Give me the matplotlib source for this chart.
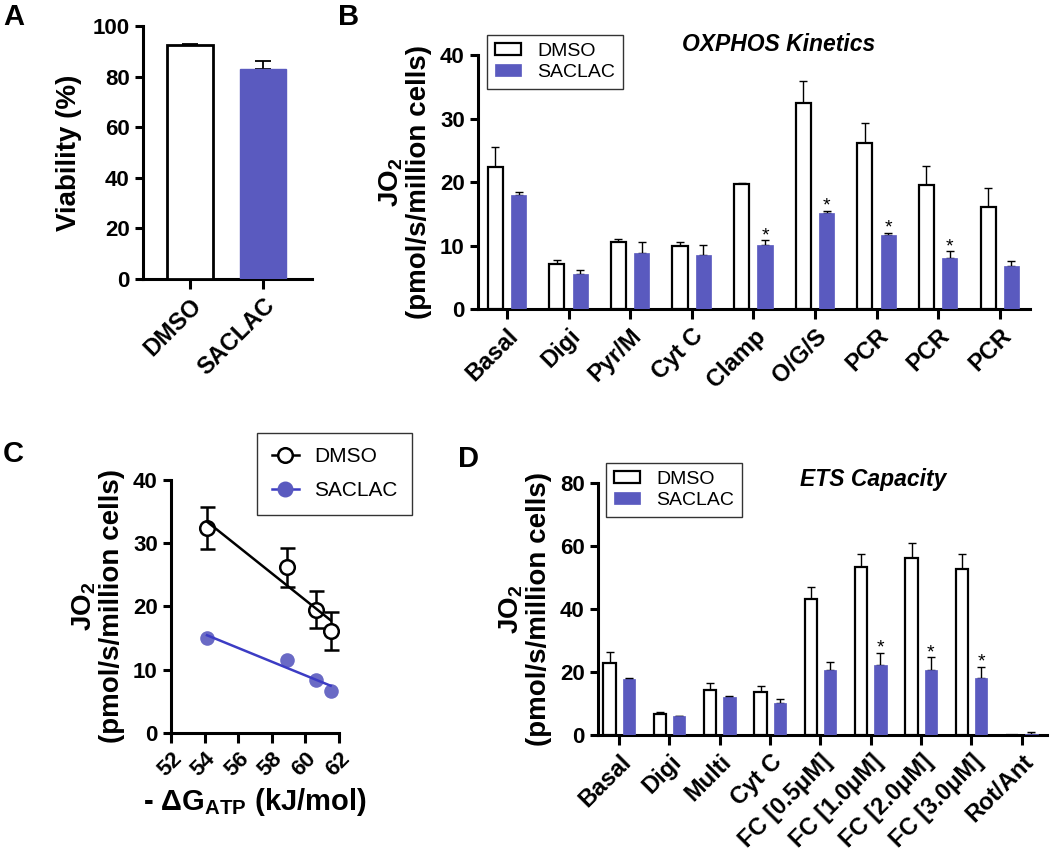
import numpy as np
import matplotlib
matplotlib.use('Agg')
import matplotlib.pyplot as plt
from matplotlib.lines import Line2D

plt.rcParams['font.family'] = ['Liberation Sans', 'DejaVu Sans']
plt.rcParams['mathtext.fontset'] = 'custom'
plt.rcParams['mathtext.rm'] = 'Liberation Sans'
plt.rcParams['mathtext.bf'] = 'Liberation Sans:bold'
plt.rcParams['mathtext.it'] = 'Liberation Sans:italic'
plt.rcParams['mathtext.default'] = 'bf'

BLUE = '#5a5abf'
LINEBLUE = '#3c3cc4'
YLAB = 'JO$_{2}$\n(pmol/s/million cells)'

# --- panel A: viability
a_groups = ['DMSO', 'SACLAC']
a_mean = [92.3, 83.0]
a_err = [0.7, 3.2]

# --- panel B: OXPHOS kinetics
b_labels = ['Basal', 'Digi', 'Pyr/M', 'Cyt C', 'Clamp', 'O/G/S', 'PCR', 'PCR', 'PCR']
b_dmso = [22.4, 7.1, 10.5, 9.9, 19.7, 32.4, 26.1, 19.5, 16.0]
b_dmso_err = [3.1, 0.6, 0.6, 0.7, 0.15, 3.5, 3.2, 3.0, 3.0]
b_saclac = [18.0, 5.5, 8.9, 8.45, 10.1, 15.1, 11.6, 8.1, 6.7]
b_saclac_err = [0.5, 0.6, 1.7, 1.7, 0.7, 0.4, 0.4, 1.0, 0.9]
b_star = [False, False, False, False, True, True, True, True, False]

# --- panel C: JO2 vs -dG ATP
c_dg = [54.14, 58.93, 60.63, 61.5]
c_dmso = [32.4, 26.2, 19.5, 16.05]
c_dmso_err = [3.3, 3.1, 2.9, 3.0]
c_saclac = [15.0, 11.6, 8.3, 6.7]

# --- panel D: ETS capacity
d_labels = ['Basal', 'Digi', 'Multi', 'Cyt C', 'FC [0.5\u03bcM]', 'FC [1.0\u03bcM]',
            'FC [2.0\u03bcM]', 'FC [3.0\u03bcM]', 'Rot/Ant']
d_dmso = [22.9, 6.8, 14.4, 13.7, 43.3, 53.4, 56.1, 52.6, 0.0]
d_dmso_err = [3.4, 0.6, 2.0, 1.7, 3.6, 4.0, 4.7, 5.0, 0.0]
d_saclac = [17.9, 5.9, 11.9, 10.1, 20.5, 22.3, 20.7, 18.2, 0.4]
d_saclac_err = [0.3, 0.2, 0.6, 1.4, 2.8, 3.8, 3.9, 3.5, 0.5]
d_star = [False, False, False, False, False, True, True, True, False]

fig = plt.figure(figsize=(10.5, 8.56), dpi=100)


def style_axes(ax):
    for s in ['top', 'right']:
        ax.spines[s].set_visible(False)
    for s in ['left', 'bottom']:
        ax.spines[s].set_linewidth(2.2)
    ax.tick_params(axis='y', width=2.2, length=6, labelsize=16, direction='out')
    ax.tick_params(axis='x', width=2.2, length=7.5, labelsize=17, direction='out')
    for t in ax.get_yticklabels() + ax.get_xticklabels():
        t.set_fontweight('bold')


def rot_labels(ax):
    for t in ax.get_xticklabels():
        t.set_rotation(45)
        t.set_ha('right')
        t.set_rotation_mode('anchor')


def bar_legend(ax, x0, y0):
    leg = ax.legend(['DMSO', 'SACLAC'], loc='upper left', bbox_to_anchor=(x0, y0),
                    borderaxespad=0, fontsize=14, frameon=True, fancybox=False,
                    edgecolor='black', handlelength=1.33, handleheight=0.6,
                    borderpad=0.4, labelspacing=0.22, handletextpad=0.85)
    leg.get_frame().set_linewidth(1.0)


def grouped(ax, dmso, dmso_err, sac, sac_err, stars, ymax):
    x = np.arange(len(dmso))
    w = 0.245
    off = 0.19
    ax.bar(x - off, dmso, w, color='white', edgecolor='black', linewidth=1.6, zorder=3)
    ax.bar(x + off, sac, w, color=BLUE, edgecolor=BLUE, linewidth=0.5, zorder=3)
    ax.errorbar(x - off, dmso, yerr=[np.zeros(len(dmso)), dmso_err], fmt='none',
                ecolor='black', elinewidth=1.0, capsize=3.2, capthick=1.0, zorder=2)
    ax.errorbar(x + off, sac, yerr=[np.zeros(len(sac)), sac_err], fmt='none',
                ecolor='black', elinewidth=1.0, capsize=3.2, capthick=1.0, zorder=2)
    for i, s in enumerate(stars):
        if s:
            ax.text(x[i] + off, sac[i] + sac_err[i], '*', ha='center',
                    va='baseline', fontsize=14)
    ax.set_xlim(-0.45, len(dmso) - 0.5)
    ax.set_ylim(0, ymax)
    ax.set_xticks(x)


# A
axA = fig.add_axes([0.1362, 0.6741, 0.1610, 0.2956])
xa = np.arange(2)
axA.bar(xa[0], a_mean[0], 0.63, color='white', edgecolor='black', linewidth=2, zorder=3)
axA.bar(xa[1], a_mean[1], 0.63, color=BLUE, edgecolor=BLUE, zorder=3)
axA.errorbar(xa, a_mean, yerr=[[0, 0], a_err], fmt='none', ecolor='black',
             elinewidth=1.3, capsize=6, capthick=1.3, zorder=2)
axA.set_xlim(-0.64, 1.67)
axA.set_ylim(0, 100)
axA.set_yticks([0, 20, 40, 60, 80, 100])
axA.set_xticks(xa)
axA.set_xticklabels(a_groups)
axA.set_ylabel('Viability (%)', fontsize=20, fontweight='bold', labelpad=8)
style_axes(axA)
rot_labels(axA)
fig.text(0.003, 0.996, 'A', fontsize=21, fontweight='bold', va='top')

# B
axB = fig.add_axes([0.4552, 0.6390, 0.5257, 0.2967])
grouped(axB, b_dmso, b_dmso_err, b_saclac, b_saclac_err, b_star, 40)
axB.set_xlim(-0.47, 8.49)
axB.set_yticks([0, 10, 20, 30, 40])
axB.set_xticklabels(b_labels)
axB.set_ylabel(YLAB, fontsize=20, fontweight='bold', labelpad=6, linespacing=1.05)
axB.text(0.545, 1.04, 'OXPHOS Kinetics', transform=axB.transAxes, ha='center',
         va='center', fontsize=16.5, fontweight='bold', fontstyle='italic')
style_axes(axB)
rot_labels(axB)
bar_legend(axB, 0.0163, 1.079)
fig.text(0.322, 0.996, 'B', fontsize=21, fontweight='bold', va='top')

# C
axC = fig.add_axes([0.1629, 0.1437, 0.1600, 0.2956])
axC.errorbar(c_dg, c_dmso, yerr=c_dmso_err, fmt='o', color='black', mfc='white',
             mec='black', ms=10.5, mew=1.8, elinewidth=1.8, capsize=5.4, capthick=1.8,
             zorder=3)
axC.plot(c_dg, c_saclac, 'o', color=BLUE, ms=10.5, alpha=0.9, zorder=2, mec='none')
k1, b1 = np.polyfit(c_dg, c_dmso, 1)
k2, b2 = np.polyfit(c_dg, c_saclac, 1)
xs = np.array([min(c_dg), max(c_dg)])
axC.plot(xs, k1 * xs + b1, color='black', lw=1.8, zorder=4)
axC.plot(xs, k2 * xs + b2, color=LINEBLUE, lw=1.8, zorder=4)
axC.set_xlim(52, 62)
axC.set_ylim(0, 40)
axC.set_xticks([52, 54, 56, 58, 60, 62])
axC.set_yticks([0, 10, 20, 30, 40])
style_axes(axC)
rot_labels(axC)
axC.tick_params(axis='x', labelsize=16)
axC.set_xlabel('- $\\Delta$G$_{\\mathbf{ATP}}$ (kJ/mol)', fontsize=21, fontweight='bold',
               labelpad=4)
axC.set_ylabel(YLAB, fontsize=20, fontweight='bold', labelpad=6, linespacing=1.05)
hd = Line2D([], [], marker='o', color='black', mfc='white', ms=10.5, mew=1.8, lw=1.8)
hs = Line2D([], [], marker='o', color=LINEBLUE, mfc=BLUE, mec=BLUE, ms=10.5, lw=1.8)
legC = axC.legend([hd, hs], ['DMSO', 'SACLAC'], loc='upper left',
                  bbox_to_anchor=(0.512, 1.186), borderaxespad=0, fontsize=15,
                  frameon=True, fancybox=False, edgecolor='black', borderpad=0.7,
                  handlelength=1.3, handletextpad=0.75, labelspacing=0.7)
legC.get_frame().set_linewidth(1.0)
fig.text(0.003, 0.486, 'C', fontsize=21, fontweight='bold', va='top')

# D
axD = fig.add_axes([0.5695, 0.1414, 0.4276, 0.2944])
grouped(axD, d_dmso, d_dmso_err, d_saclac, d_saclac_err, d_star, 80)
axD.set_xlim(-0.42, 8.5)
axD.set_yticks([0, 20, 40, 60, 80])
axD.set_xticklabels(d_labels)
axD.set_ylabel(YLAB, fontsize=20, fontweight='bold', labelpad=6, linespacing=1.05)
axD.text(0.612, 1.012, 'ETS Capacity', transform=axD.transAxes, ha='center',
         va='center', fontsize=16.5, fontweight='bold', fontstyle='italic')
style_axes(axD)
rot_labels(axD)
bar_legend(axD, 0.0178, 1.079)
fig.text(0.436, 0.48, 'D', fontsize=21, fontweight='bold', va='top')

fig.savefig('out.png', dpi=100)
